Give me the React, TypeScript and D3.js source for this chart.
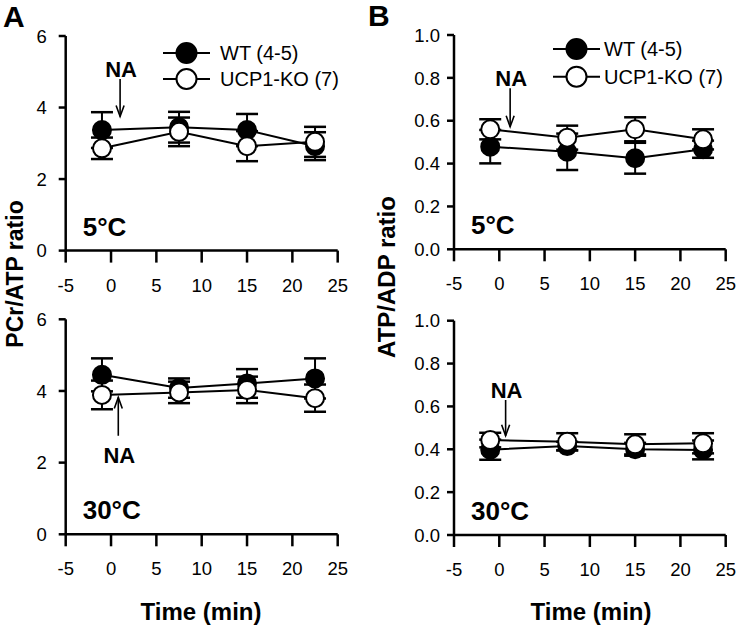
import React from "react";
import * as d3 from "d3";

// time points (min)
const times = [-1, 7.5, 15, 22.5];
const xTicks = [-5, 0, 5, 10, 15, 20, 25];

// PCr/ATP ratio, 5°C
const pcrWt5 = [3.37, 3.45, 3.37, 2.92];
const pcrWt5Err = [0.5, 0.43, 0.45, 0.39];
const pcrKo5 = [2.86, 3.32, 2.92, 3.04];
const pcrKo5Err = [0.3, 0.4, 0.42, 0.42];

// PCr/ATP ratio, 30°C
const pcrWt30 = [4.45, 4.08, 4.21, 4.35];
const pcrWt30Err = [0.46, 0.27, 0.4, 0.56];
const pcrKo30 = [3.89, 3.96, 4.03, 3.8];
const pcrKo30Err = [0.4, 0.3, 0.37, 0.38];

// ATP/ADP ratio, 5°C
const atpWt5 = [0.479, 0.455, 0.425, 0.467];
const atpWt5Err = [0.078, 0.085, 0.072, 0.04];
const atpKo5 = [0.56, 0.521, 0.56, 0.513];
const atpKo5Err = [0.047, 0.056, 0.056, 0.047];

// ATP/ADP ratio, 30°C
const atpWt30 = [0.398, 0.415, 0.4, 0.397];
const atpWt30Err = [0.047, 0.02, 0.03, 0.044];
const atpKo30 = [0.443, 0.435, 0.423, 0.428];
const atpKo30Err = [0.034, 0.04, 0.047, 0.047];

const legendLabels = ["WT (4-5)", "UCP1-KO (7)"];

const FONT = "'Liberation Sans', Arial, Helvetica, sans-serif";

function Series({ x, y, values, errors, filled }: any) {
  const line = d3.line<number>().x((_, i) => x(times[i])).y((d) => y(d));
  return (
    <g>
      {values.map((v: number, i: number) => {
        const cx = x(times[i]);
        const hi = y(v + errors[i]);
        const lo = y(v - errors[i]);
        return (
          <g key={i} stroke="#000" strokeWidth={2}>
            <line x1={cx} x2={cx} y1={hi} y2={lo} />
            <line x1={cx - 11} x2={cx + 11} y1={hi} y2={hi} strokeWidth={2.5} />
            <line x1={cx - 11} x2={cx + 11} y1={lo} y2={lo} strokeWidth={2.5} />
          </g>
        );
      })}
      <path d={line(values) || ""} fill="none" stroke="#000" strokeWidth={2} />
      {values.map((v: number, i: number) => (
        <circle key={i} cx={x(times[i])} cy={y(v)} r={9} fill={filled ? "#000" : "#fff"} stroke="#000" strokeWidth={2} />
      ))}
    </g>
  );
}

function Panel(p: any) {
  const x = d3.scaleLinear().domain([-5, 25]).range([p.left, p.right]);
  const y = d3.scaleLinear().domain([0, p.max]).range([p.bottom, p.top]);
  const yTicks = d3.range(0, p.max + p.step / 2, p.step);
  const fmt = d3.format(p.fmt);
  const ax = x(p.na.time);
  const tailY = y(p.na.tail);
  const tipY = y(p.na.tip);
  const dir = tipY > tailY ? 1 : -1;
  return (
    <g>
      {/* axes */}
      <line x1={p.left} x2={p.left} y1={p.top} y2={p.bottom} stroke="#000" strokeWidth={2.5} />
      <line x1={p.left} x2={p.right} y1={p.bottom} y2={p.bottom} stroke="#000" strokeWidth={2.5} />
      {yTicks.map((t: number) => (
        <g key={t}>
          <line x1={p.left - 7} x2={p.left} y1={y(t)} y2={y(t)} stroke="#000" strokeWidth={2.5} />
          <text x={p.left - p.labelGap} y={y(t)} dy="0.36em" textAnchor="end" fontSize={18.5}>{fmt(t)}</text>
        </g>
      ))}
      {xTicks.map((t) => (
        <g key={t}>
          <line x1={x(t)} x2={x(t)} y1={p.bottom} y2={p.bottom + 12} stroke="#000" strokeWidth={2.5} />
          <text x={x(t)} y={p.bottom + 41} textAnchor="middle" fontSize={18.5}>{t}</text>
        </g>
      ))}
      {/* data */}
      <Series x={x} y={y} values={p.wt} errors={p.wtErr} filled />
      <Series x={x} y={y} values={p.ko} errors={p.koErr} filled={false} />
      {/* NA arrow */}
      <g stroke="#000" strokeWidth={1.6} fill="none">
        <line x1={ax} x2={ax} y1={tailY} y2={tipY} />
        <polyline points={`${ax - 4},${tipY - dir * 11} ${ax},${tipY} ${ax + 4},${tipY - dir * 11}`} />
      </g>
      <text x={ax + 1} y={p.na.above ? tailY - 2 : tailY + 27} textAnchor="middle" fontSize={22} fontWeight="bold">NA</text>
      {/* temperature */}
      <text x={p.left + 17} y={p.bottom - 15} fontSize={26} fontWeight="bold">{p.temp}</text>
      {/* legend */}
      {p.legend &&
        legendLabels.map((l, i) => {
          const ly = p.legend.y + i * p.legend.dy;
          return (
            <g key={l}>
              <line x1={p.legend.x} x2={p.legend.x + 47} y1={ly} y2={ly} stroke="#000" strokeWidth={2} />
              <circle cx={p.legend.x + 23.5} cy={ly} r={10} fill={i === 0 ? "#000" : "#fff"} stroke="#000" strokeWidth={2} />
              <text x={p.legend.tx} y={ly + 7} fontSize={20}>{l}</text>
            </g>
          );
        })}
    </g>
  );
}

export default function App() {
  const colA = { left: 65.7, right: 337.7, max: 6, step: 2, fmt: "d", labelGap: 19 };
  const colB = { left: 454, right: 725.7, max: 1, step: 0.2, fmt: ".1f", labelGap: 14 };
  return (
    <svg width={738} height={628} style={{ position: "absolute", left: 0, top: 0, background: "#fff" }} fontFamily={FONT}>
      <rect width={738} height={628} fill="#fff" />
      <text x={3} y={27} fontSize={30} fontWeight="bold">A</text>
      <text x={368} y={26} fontSize={30} fontWeight="bold">B</text>

      <Panel {...colA} top={36} bottom={250.6} wt={pcrWt5} wtErr={pcrWt5Err} ko={pcrKo5} koErr={pcrKo5Err}
        temp="5°C" na={{ time: 1, tail: 4.8, tip: 3.75, above: true }}
        legend={{ x: 163, y: 53, dy: 26, tx: 220 }} />
      <Panel {...colA} top={319.3} bottom={534.3} wt={pcrWt30} wtErr={pcrWt30Err} ko={pcrKo30} koErr={pcrKo30Err}
        temp="30°C" na={{ time: 0.8, tail: 2.75, tip: 3.82, above: false }} />
      <Panel {...colB} top={35} bottom={249.3} wt={atpWt5} wtErr={atpWt5Err} ko={atpKo5} koErr={atpKo5Err}
        temp="5°C" na={{ time: 1.2, tail: 0.751, tip: 0.572, above: true }}
        legend={{ x: 553, y: 49, dy: 27.7, tx: 604 }} />
      <Panel {...colB} top={320.7} bottom={535} wt={atpWt30} wtErr={atpWt30Err} ko={atpKo30} koErr={atpKo30Err}
        temp="30°C" na={{ time: 0.7, tail: 0.63, tip: 0.463, above: true }} />

      <text transform="translate(23,274) rotate(-90)" textAnchor="middle" fontSize={23} fontWeight="bold">PCr/ATP ratio</text>
      <text transform="translate(395,277) rotate(-90)" textAnchor="middle" fontSize={24} fontWeight="bold">ATP/ADP ratio</text>
      <text x={201} y={620} textAnchor="middle" fontSize={24} fontWeight="bold">Time (min)</text>
      <text x={591} y={620} textAnchor="middle" fontSize={24} fontWeight="bold">Time (min)</text>
    </svg>
  );
}
